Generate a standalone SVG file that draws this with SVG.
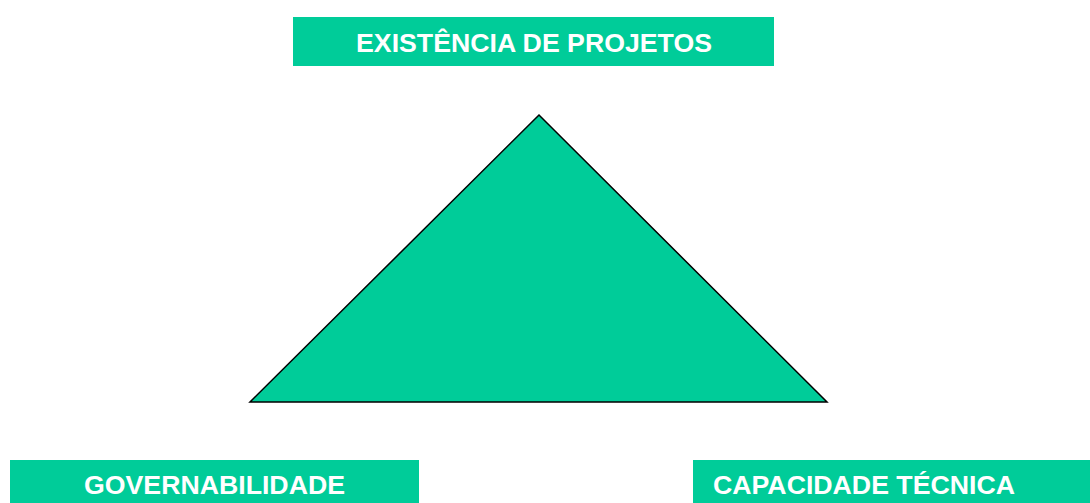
<svg xmlns="http://www.w3.org/2000/svg" width="1090" height="503" viewBox="0 0 1090 503">
<style>
.box{fill:#00CC99;stroke:none}
.lbl{font-family:"Liberation Sans",Arial,sans-serif;font-weight:bold;font-size:26.7px;fill:#FFFFFF}
</style>
<rect width="1090" height="503" fill="#FFFFFF"/>
<g id="triangle">
<polygon points="539,115 250,402 827,402" fill="#00CC99" stroke="#000000" stroke-width="1.5" stroke-linejoin="miter"/>
</g>
<g id="connectors"></g>
<g id="node-projetos">
<rect class="box" x="293" y="17" width="481" height="49"/>
<text class="lbl" x="534" y="52" text-anchor="middle">EXISTÊNCIA DE PROJETOS</text>
</g>
<g id="node-governabilidade">
<rect class="box" x="10" y="460" width="409" height="43"/>
<text class="lbl" x="214.5" y="494" text-anchor="middle">GOVERNABILIDADE</text>
</g>
<g id="node-capacidade">
<rect class="box" x="693" y="460" width="397" height="43"/>
<text class="lbl" x="713" y="494">CAPACIDADE TÉCNICA</text>
</g>
</svg>
